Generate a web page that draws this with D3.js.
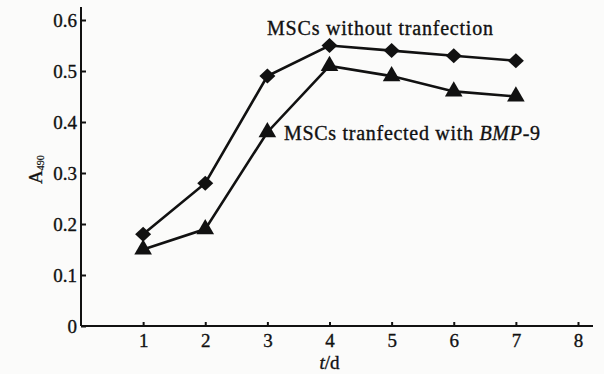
<!DOCTYPE html>
<html>
<head>
<meta charset="utf-8">
<script src="https://cdn.jsdelivr.net/npm/d3@7"></script>
<style>
  body { margin: 0; background: #fbfbfa; }
  svg { display: block; }
</style>
</head>
<body>
<div id="chart"></div>
<script>
// data
var days = [1, 2, 3, 4, 5, 6, 7];
var withoutTransfection = [0.18, 0.28, 0.49, 0.55, 0.54, 0.53, 0.52];
var withBMP9 = [0.15, 0.19, 0.38, 0.51, 0.49, 0.46, 0.45];
var xTicks = [1, 2, 3, 4, 5, 6, 7, 8];
var yTicks = [0, 0.1, 0.2, 0.3, 0.4, 0.5, 0.6];

var attrs = {
  svgWidth: 604,
  svgHeight: 374,
  ink: '#111',
  font: '"Liberation Serif", "Times New Roman", serif'
};

var svg = d3.select('#chart').append('svg')
  .attr('width', attrs.svgWidth)
  .attr('height', attrs.svgHeight)
  .attr('font-family', attrs.font);

// scales (x=0 at 81px, y=0 at 326px)
var x = d3.scaleLinear().domain([0, 8]).range([81, 578]);
var y = d3.scaleLinear().domain([0, 0.6]).range([326, 20]);

// axes
var xAxis = svg.append('g')
  .attr('transform', 'translate(0,' + y(0) + ')')
  .call(d3.axisBottom(x).tickValues(xTicks).tickSizeInner(-4).tickSizeOuter(0).tickPadding(8));
xAxis.select('.domain').attr('d', 'M' + x(0) + ',0H593');

var yAxis = svg.append('g')
  .attr('transform', 'translate(' + x(0) + ',0)')
  .call(d3.axisLeft(y).tickValues(yTicks).tickSizeInner(-5).tickSizeOuter(0).tickPadding(4)
    .tickFormat(function(d) { return d === 0 ? '0' : d3.format('.1f')(d); }));
yAxis.select('.domain').attr('d', 'M0,' + y(0) + 'V7');

svg.selectAll('.tick text').attr('dy', '0.36em');
xAxis.selectAll('.tick text').attr('dy', '0.71em');

svg.selectAll('g').attr('font-family', attrs.font);
svg.selectAll('.domain, .tick line')
  .attr('stroke', attrs.ink)
  .attr('stroke-width', 2);
svg.selectAll('.tick text')
  .attr('fill', attrs.ink)
  .attr('stroke', attrs.ink)
  .attr('stroke-width', 0.35)
  .attr('font-size', 19);

// axis titles
svg.append('text')
  .attr('x', x(4))
  .attr('y', 369)
  .attr('text-anchor', 'middle')
  .attr('font-size', 19)
  .attr('fill', attrs.ink)
  .attr('stroke', attrs.ink)
  .attr('stroke-width', 0.35)
  .html('<tspan font-style="italic">t</tspan>/d');

var yTitle = svg.append('text')
  .attr('transform', 'translate(42,184) rotate(-90)')
  .attr('font-size', 19)
  .attr('fill', attrs.ink)
  .attr('stroke', attrs.ink)
  .attr('stroke-width', 0.3);
yTitle.append('tspan').text('A');
yTitle.append('tspan').attr('font-size', 10).attr('stroke-width', 0.2).attr('dy', 2).text('490');

// lines
var line = d3.line()
  .x(function(d) { return x(d[0]); })
  .y(function(d) { return y(d[1]); });

// diamond 15 wide x 14 tall, triangle 17 wide x 15 tall
var diamond = 'M0,-7.5L8,0L0,7.5L-8,0Z';

var series = [
  { key: 'without', values: withoutTransfection, path: diamond },
  { key: 'bmp9', values: withBMP9, path: d3.symbol().type(d3.symbolTriangle).size(135)() }
];

series.forEach(function(s) {
  var pts = days.map(function(d, i) { return [d, s.values[i]]; });
  svg.append('path')
    .attr('d', line(pts))
    .attr('fill', 'none')
    .attr('stroke', attrs.ink)
    .attr('stroke-width', 2.6);
  svg.selectAll('.m-' + s.key)
    .data(pts)
    .enter().append('path')
    .attr('class', 'm-' + s.key)
    .attr('transform', function(d) { return 'translate(' + x(d[0]) + ',' + y(d[1]) + ')'; })
    .attr('d', s.path)
    .attr('fill', attrs.ink);
});

// series labels
svg.append('text')
  .attr('x', 267)
  .attr('y', 35)
  .attr('font-size', 20)
  .attr('textLength', 226)
  .attr('fill', attrs.ink)
  .attr('stroke', attrs.ink)
  .attr('stroke-width', 0.35)
  .text('MSCs without tranfection');

svg.append('text')
  .attr('x', 284)
  .attr('y', 140)
  .attr('font-size', 20)
  .attr('textLength', 256)
  .attr('fill', attrs.ink)
  .attr('stroke', attrs.ink)
  .attr('stroke-width', 0.35)
  .html('MSCs tranfected with <tspan font-style="italic">BMP</tspan>-9');
</script>
</body>
</html>
